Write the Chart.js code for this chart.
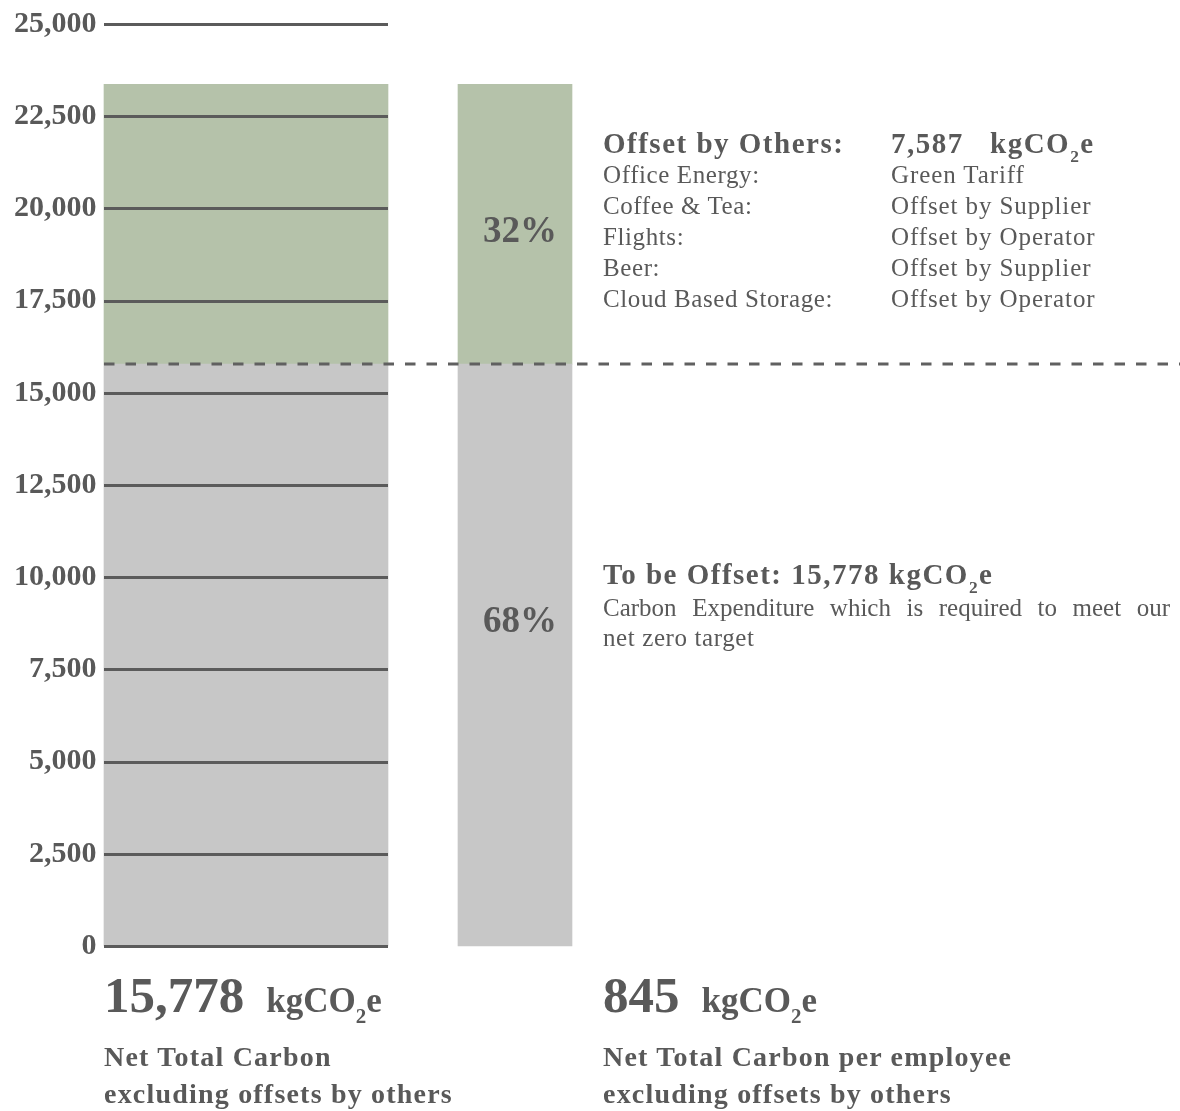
<!DOCTYPE html>
<html>
<head>
<meta charset="utf-8">
<script src="https://cdn.jsdelivr.net/npm/chart.js@4.4.1/dist/chart.umd.min.js"></script>
<style>
  html, body { margin: 0; padding: 0; background: #fff; }
  body { width: 1180px; height: 1111px; position: relative; overflow: hidden;
         font-family: "Liberation Serif", "Times New Roman", serif; color: #595959; }
  #wrap { position: absolute; left: 0; top: 0; width: 1180px; height: 1111px; }
  .t { position: absolute; white-space: nowrap; }
  sub { font-size: 0.6em; vertical-align: -0.5em; line-height: 0; }
  .hdr { font-size: 29px; line-height: 34px; font-weight: bold; letter-spacing: 1.5px; }
  .row { font-size: 25px; line-height: 31px; letter-spacing: 0.6px; }
  .pct { font-size: 37px; font-weight: bold; width: 114px; text-align: center; line-height: 40px; }
  .big { font-size: 51px; line-height: 51px; font-weight: bold; }
  .unit { font-size: 35px; font-weight: bold; margin-left: 22px; }
  .cap { font-size: 28px; line-height: 37px; font-weight: bold; letter-spacing: 1.2px; }
</style>
</head>
<body>
<div id="wrap"><canvas id="carbonChart"></canvas></div>

<!-- percentage labels on the share bar -->
<div class="t pct" style="left:463px; top:210px;">32%</div>
<div class="t pct" style="left:463px; top:600px;">68%</div>

<!-- offset by others block -->
<div class="t hdr" style="left:603px; top:126px;">Offset by Others:</div>
<div class="t hdr" style="left:891px; top:126px;">7,587&nbsp;&nbsp; kgCO<sub>2</sub>e</div>
<div class="t row" style="left:603px; top:159px;">
  Office Energy:<br>Coffee &amp; Tea:<br>Flights:<br>Beer:<br>Cloud Based Storage:
</div>
<div class="t row" style="left:891px; top:159px; letter-spacing:0.9px;">
  Green Tariff<br>Offset by Supplier<br>Offset by Operator<br>Offset by Supplier<br>Offset by Operator
</div>

<!-- to be offset block -->
<div class="t hdr" style="left:603px; top:557px;">To be Offset: 15,778 kgCO<sub>2</sub>e</div>
<div class="t row" style="left:603px; top:592px; width:567px; white-space:normal; text-align:justify; text-align-last:justify; letter-spacing:0;">Carbon Expenditure which is required to meet our</div>
<div class="t row" style="left:603px; top:622px;">net zero target</div>

<!-- bottom totals -->
<div class="t" style="left:104px; top:970px;"><span class="big">15,778</span><span class="unit">kgCO<sub>2</sub>e</span></div>
<div class="t" style="left:603px; top:970px;"><span class="big">845</span><span class="unit">kgCO<sub>2</sub>e</span></div>
<div class="t cap" style="left:104px; top:1038px;">Net Total Carbon<br>excluding offsets by others</div>
<div class="t cap" style="left:603px; top:1038px;">Net Total Carbon per employee<br>excluding offsets by others</div>

<script>
// --- data ---
const barLabels = ['Net Total Carbon', 'Net Total Carbon per employee'];
const toBeOffset = [15778, 15778];      // kgCO2e still to be offset (grey)
const offsetByOthers = [7587, 7587];    // kgCO2e offset by others (green)
const shareLabels = ['68%', '32%'];     // shown on the narrow bar
const yMin = 0;
const yMax = 25000;
const yStep = 2500;

const GREY = '#c7c7c7';
const GREEN = '#b5c2aa';
const LINE = '#5b5b5b';

// only put a value in the slot for one bar, so each bar can get its own width
function onlyAt(values, idx) {
    return values.map((v, i) => (i === idx ? v : null));
}

// gridlines sit on top of the wide bar, and only across it
const overlayLines = {
    id: 'overlayLines',
    afterDatasetsDraw(chart) {
        const ctx = chart.ctx;
        const yScale = chart.scales.y;
        const bar = chart.getDatasetMeta(0).data[0];
        if (!bar) return;
        const { x, y, width } = bar.getProps(['x', 'y', 'width'], true);
        const x0 = x - width / 2;
        const x1 = x + width / 2;

        ctx.save();
        ctx.strokeStyle = LINE;
        ctx.lineWidth = 3;
        yScale.ticks.forEach(t => {
            const py = Math.round(yScale.getPixelForValue(t.value)) + 0.5;
            ctx.beginPath();
            ctx.moveTo(x0, py);
            ctx.lineTo(x1, py);
            ctx.stroke();
        });

        // dashed line at the top of the "to be offset" stack, to the page edge
        ctx.setLineDash([10.5, 11]);
        ctx.strokeStyle = '#606060';
        ctx.beginPath();
        ctx.moveTo(x0, y);
        ctx.lineTo(chart.width, y);
        ctx.stroke();
        ctx.restore();
    }
};

const datasets = [
    { label: 'To be offset', data: onlyAt(toBeOffset, 0), backgroundColor: GREY, barThickness: 284, clip: false },
    { label: 'Offset by others', data: onlyAt(offsetByOthers, 0), backgroundColor: GREEN, barThickness: 284, clip: false },
    { label: 'To be offset (' + shareLabels[0] + ')', data: onlyAt(toBeOffset, 1), backgroundColor: GREY, barThickness: 114, clip: false },
    { label: 'Offset by others (' + shareLabels[1] + ')', data: onlyAt(offsetByOthers, 1), backgroundColor: GREEN, barThickness: 114, clip: false }
];

const canvas = document.getElementById('carbonChart');
canvas.width = 1180;
canvas.height = 1111;

new Chart(canvas, {
    type: 'bar',
    data: { labels: barLabels, datasets },
    options: {
        responsive: false,
        animation: false,
        devicePixelRatio: 1,
        layout: { padding: { top: 24, right: 530.5, bottom: 165, left: 0 } },
        plugins: { legend: { display: false }, tooltip: { enabled: false } },
        scales: {
            x: {
                stacked: true,
                display: false,
                offset: true
            },
            y: {
                stacked: true,
                min: yMin,
                max: yMax,
                border: { display: false },
                grid: { display: false, drawTicks: false },
                ticks: {
                    stepSize: yStep,
                    padding: 15,
                    color: '#595959',
                    font: { family: '"Liberation Serif", serif', size: 30, weight: 'bold' },
                    callback: v => v.toLocaleString('en-US')
                },
                afterFit(scale) {
                    scale.width = 111.5;
                    // the layout padding already leaves room for the end labels
                    scale.paddingTop = 0;
                    scale.paddingBottom = 0;
                }
            }
        }
    },
    plugins: [overlayLines]
});
</script>
</body>
</html>
